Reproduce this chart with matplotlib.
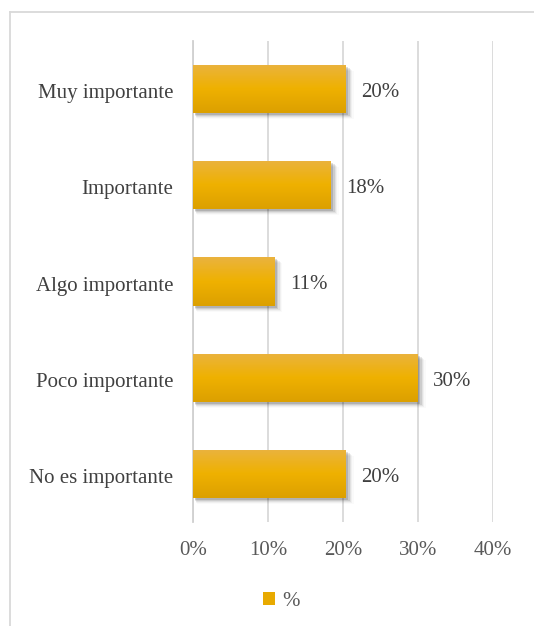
import matplotlib
matplotlib.use('Agg')
import numpy as np
import matplotlib.pyplot as plt
import matplotlib.transforms as mtransforms
from matplotlib.patches import Rectangle
from matplotlib.lines import Line2D
from matplotlib.colors import LinearSegmentedColormap

# data (top to bottom as shown)
categories = ['Muy importante', 'Importante', 'Algo importante',
              'Poco importante', 'No es importante']
values = [20.4, 18.4, 10.9, 30.0, 20.4]
value_labels = ['20%', '18%', '11%', '30%', '20%']
x_ticks = [0, 10, 20, 30, 40]
x_tick_labels = ['0%', '10%', '20%', '30%', '40%']
series_name = '%'

plt.rcParams['font.family'] = ['Liberation Serif', 'DejaVu Serif']

W, H = 534, 626
dpi = 100
fig = plt.figure(figsize=(W / dpi, H / dpi), dpi=dpi)
ax = fig.add_axes([193 / W, 1 - 522 / H, 300 / W, 481 / H])

# top light -> middle -> bottom dark
grad = LinearSegmentedColormap.from_list(
    'gold', ['#EAB33E', '#EFB100', '#DCA000'])
grad_img = np.linspace(0, 1, 64).reshape(-1, 1)

px_x = 40 / 300   # data units per pixel
px_y = 5 / 481

ypos = np.arange(len(categories))
bar_h = 0.5
for y, v, lab in zip(ypos, values, value_labels):
    # soft shadow, down and to the right
    for i, a in enumerate([0.13, 0.09, 0.06, 0.04, 0.02]):
        k = i + 1
        sh = Rectangle((px_x * (1 + k * 0.5), y - bar_h / 2 + px_y * (1 + k)),
                       v + px_x * (k * 0.8), bar_h, facecolor='black', alpha=a,
                       edgecolor='none', zorder=2)
        ax.add_patch(sh)
    rect = Rectangle((0, y - bar_h / 2), v, bar_h, facecolor='#EFB100',
                     edgecolor='none', zorder=3)
    ax.add_patch(rect)
    im = ax.imshow(grad_img, cmap=grad, aspect='auto', origin='upper',
                   extent=[0, v, y + bar_h / 2, y - bar_h / 2], zorder=4)
    im.set_clip_path(rect)
    ax.annotate(lab, xy=(v, y), xytext=(11, -2.5), textcoords='offset points',
                ha='left', va='center', fontsize=15, color='#404040')

ax.set_xlim(0, 40)
ax.set_ylim(len(categories) - 0.5, -0.5)
ax.set_xticks(x_ticks)
ax.set_xticklabels(x_tick_labels)
ax.set_yticks(ypos)
ax.set_yticklabels(categories)
ax.tick_params(axis='x', length=0, pad=13.5, labelsize=15, labelcolor='#595959')
ax.tick_params(axis='y', length=0, pad=14, labelsize=15, labelcolor='#404040')
shift = mtransforms.ScaledTranslation(0, -2 / dpi, fig.dpi_scale_trans)
for t in ax.get_yticklabels():
    t.set_va('center_baseline')
    t.set_transform(t.get_transform() + shift)
ax.grid(axis='x', color='#D9D9D9', linewidth=1.3, zorder=0)
ax.set_axisbelow(True)
for s in ['top', 'right', 'bottom']:
    ax.spines[s].set_visible(False)
ax.spines['left'].set_color('#D0D0D0')
ax.spines['left'].set_linewidth(1.3)
ax.spines['left'].set_zorder(1)

# legend
handle = Rectangle((0, 0), 1, 1, facecolor='#E8AA00', edgecolor='none')
fig.legend([handle], [series_name], loc='center', frameon=False,
           bbox_to_anchor=(0.527, 1 - 601 / H), fontsize=15,
           handlelength=0.6, handleheight=0.6, handletextpad=0.35,
           labelcolor='#595959')

# chart frame
fig.add_artist(Line2D([9.5 / W, 9.5 / W], [1 - 12 / H, 0], transform=fig.transFigure,
                      color='#D9D9D9', linewidth=1.3))
fig.add_artist(Line2D([9.5 / W, 1], [1 - 12 / H, 1 - 12 / H], transform=fig.transFigure,
                      color='#D9D9D9', linewidth=1.3))

fig.savefig('out.png', dpi=dpi)
